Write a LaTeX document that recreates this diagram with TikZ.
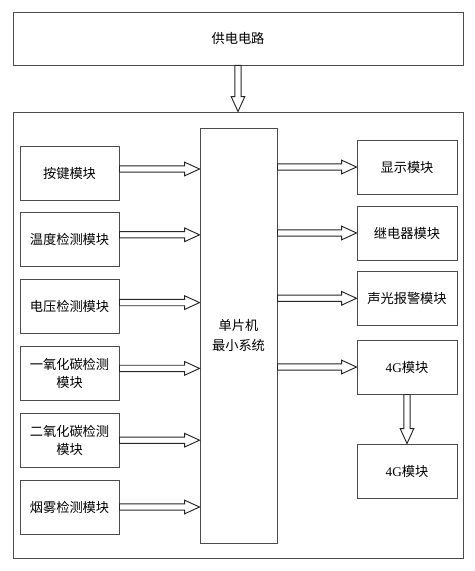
\documentclass[tikz,border=0pt]{standalone}
\usepackage{fontspec}
\setmainfont{Liberation Serif}
\newfontfamily\cjk{Noto Sans CJK SC}
\newfontfamily\latinfont{Liberation Serif}
\usetikzlibrary{calc}
\tikzset{
	MyPx/.style={x=0.03cm,y=-0.03cm},% one unit = one pixel of the sketch
	ModBox/.style={draw=black!70,line width=0.8pt,align=center,
    minimum width=2.97cm,minimum height=1.62cm},
	MyArrow/.style={draw=black!85,fill=white,line width=0.8pt,line join=miter}
		}
\def\shaftw{2.7pt}% half width of the arrow shaft
\def\headw{5.8pt}% half width of the arrow head
\def\headl{12.7pt}% length of the arrow head
\def\harrow(#1)(#2)% Syntax: (start)(end), head to the right
    { \draw[MyArrow] let \p1=(#1), \p2=(#2) in
      (\x1,\y1+\shaftw) -- (\x2-\headl,\y1+\shaftw) -- (\x2-\headl,\y1+\headw)
      -- (\x2,\y1) -- (\x2-\headl,\y1-\headw) -- (\x2-\headl,\y1-\shaftw)
      -- (\x1,\y1-\shaftw) -- cycle; }
\def\varrow(#1)(#2)% Syntax: (start)(end), head downwards
    { \draw[MyArrow] let \p1=(#1), \p2=(#2) in
      (\x1-\shaftw,\y1) -- (\x1-\shaftw,\y2+\headl) -- (\x1-\headw,\y2+\headl)
      -- (\x1,\y2) -- (\x1+\headw,\y2+\headl) -- (\x1+\shaftw,\y2+\headl)
      -- (\x1+\shaftw,\y1) -- cycle; }

\begin{document}
\begin{tikzpicture}[MyPx,font=\cjk\fontsize{11.3}{15.3}\selectfont]
  \useasboundingbox (0,0) rectangle (474,571);

  % power supply and the board
  \node[ModBox,minimum width=13.5cm,minimum height=13.38cm] (Board) at (238,335) {};
  \node[ModBox,minimum width=13.5cm,minimum height=1.59cm] (PW) at (238,38.5) {供电电路};
  \varrow(PW.south)(Board.north)

  % microcontroller
  \node[ModBox,minimum width=2.31cm,minimum height=12.45cm,
    font=\cjk\fontsize{11.3}{17}\selectfont] (MCU) at (238.5,335.5) {单片机\\最小系统};

  % input modules
  \foreach \t/\d [count=\i] in {按键模块/-4, 温度检测模块/-5, 电压检测模块/-4,
      {一氧化碳检测\\模块}/-5, {二氧化碳检测\\模块}/0, 烟雾检测模块/0}{
    \node[ModBox] (K\i) at (69.5,{173+66.8*(\i-1)}) {\t};
    \coordinate (a\i) at ($(K\i.east)+(0,\d)$);
    \harrow(a\i)(MCU.west)
  }

  % output modules
  \foreach \t/\y [count=\i] in {显示模块/167, 继电器模块/233, 声光报警模块/298.3,
      {{\latinfont 4G}模块}/367}{
    \node[ModBox,minimum width=3cm] (R\i) at (407,\y) {\t};
    \harrow(MCU.east |- R\i)(R\i.west)
  }
  \node[ModBox,minimum width=3cm] (R5) at (407,471) {{\latinfont 4G}模块};
  \varrow(R4.south)(R5.north)
\end{tikzpicture}
\end{document}
